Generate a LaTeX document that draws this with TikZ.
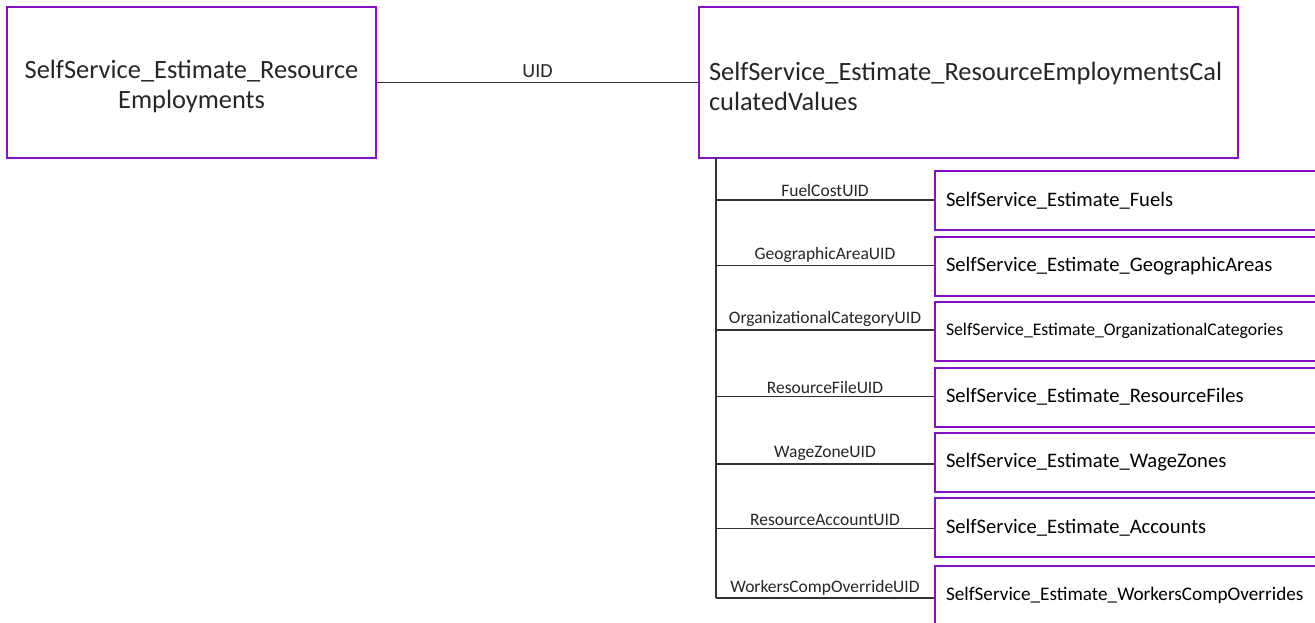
\documentclass[tikz,border=0pt]{standalone}
\usepackage{fontspec}
\setmainfont{Carlito}
\definecolor{boxpurple}{RGB}{136,16,196}
\definecolor{linegray}{RGB}{50,50,50}
\newcommand{\toppad}{\rule{0pt}{25.5pt}}
\tikzset{
  entity/.style={draw=boxpurple, line width=2pt, fill=white, rectangle, inner sep=0pt},
  bigtext/.style={font=\fontsize{26.4}{30}\selectfont},
  childbox/.style={entity, anchor=north west, minimum width=400pt, minimum height=59pt,
    inner xsep=11pt, text width=378pt, align=left, font=\fontsize{20.6}{24}\selectfont},
  link/.style={draw=linegray, line width=1.2pt},
  linklabel/.style={above, inner sep=2.5pt, font=\fontsize{17.5}{20}\selectfont, text=black!85}
}
\begin{document}
\begin{tikzpicture}[x=1pt,y=-1pt]
\useasboundingbox (0,0) rectangle (1315,622);
\clip (0,0) rectangle (1315,622);
\fill[white] (0,0) rectangle (1315,622);

\node[entity, bigtext, anchor=north west, minimum width=369pt, minimum height=151pt, align=center, text=black!85]
  (emp) at (6,6) {\toppad SelfService\_Estimate\_Resource\\Employments};
\node[entity, bigtext, anchor=north west, minimum width=539pt, minimum height=151pt,
  inner xsep=10pt, text width=519pt, align=left, text=black!85]
  (calc) at (698,6) {\toppad SelfService\_Estimate\_ResourceEmploymentsCal\\culatedValues};

\draw[link] (emp.east) -- node[linklabel, font=\fontsize{20}{22}\selectfont, inner sep=4pt] {UID} (calc.west);

\node[childbox] (fuels) at (934,170) {SelfService\_Estimate\_Fuels};
\node[childbox] (geo) at (934,235.5) {SelfService\_Estimate\_GeographicAreas};
\node[childbox, font=\fontsize{17.7}{20}\selectfont] (org) at (934,300.5) {SelfService\_Estimate\_OrganizationalCategories};
\node[childbox] (rfiles) at (934,366.5) {SelfService\_Estimate\_ResourceFiles};
\node[childbox] (wage) at (934,431.5) {SelfService\_Estimate\_WageZones};
\node[childbox] (acc) at (934,497) {SelfService\_Estimate\_Accounts};
\node[childbox, font=\fontsize{19.2}{22}\selectfont] (wcomp) at (934,565) {SelfService\_Estimate\_WorkersCompOverrides};

\coordinate (trunktop) at (716,157);
\coordinate (trunkbot) at (716,598);
\draw[link] (trunktop) -- (trunkbot);

\draw[link] (trunktop |- 0,200) -- node[linklabel] {FuelCostUID} (fuels.west |- 0,200);
\draw[link] (trunktop |- 0,265.5) -- node[linklabel] {GeographicAreaUID} (geo.west |- 0,265.5);
\draw[link] (trunktop |- 0,330) -- node[linklabel] {OrganizationalCategoryUID} (org.west |- 0,330);
\draw[link] (trunktop |- 0,396.5) -- node[linklabel] {ResourceFileUID} (rfiles.west |- 0,396.5);
\draw[link] (trunktop |- 0,464) -- node[linklabel] {WageZoneUID} (wage.west |- 0,464);
\draw[link] (trunktop |- 0,528.5) -- node[linklabel] {ResourceAccountUID} (acc.west |- 0,528.5);
\draw[link] (trunkbot) -- node[linklabel] {WorkersCompOverrideUID} (wcomp.west |- trunkbot);
\end{tikzpicture}
\end{document}
